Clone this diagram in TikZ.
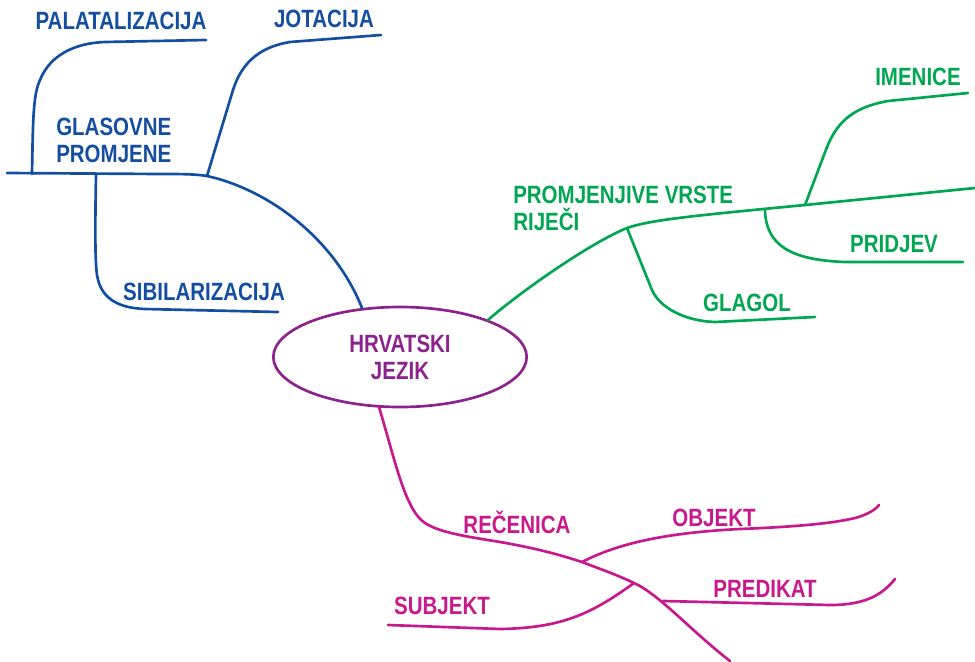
\documentclass[tikz,border=0pt]{standalone}
\usepackage{fontspec}
\setmainfont{Liberation Sans}[FakeStretch=0.82]
\usetikzlibrary{shapes.geometric}
\definecolor{cblue}{RGB}{20,78,160}
\definecolor{cgreen}{RGB}{0,166,80}
\definecolor{cpurple}{RGB}{140,35,140}
\definecolor{cmag}{RGB}{200,25,140}
\tikzset{
  lbl/.style={font=\fontsize{18.75}{20.25}\selectfont\bfseries, inner sep=0pt, anchor=base},
  lblml/.style={lbl, align=left, anchor=base west},
  branch/.style={line width=2pt, line cap=round, draw},
}
\begin{document}
\begin{tikzpicture}[x=0.75pt,y=-0.75pt]
\useasboundingbox (0,0) rectangle (975,661);

% central node
\node[draw=cpurple, line width=2pt, ellipse, minimum width=190pt, minimum height=75pt,
      inner sep=0pt, align=center, text=cpurple,
      font=\fontsize{18.75}{20.25}\selectfont\bfseries] (hj) at (400,357) {HRVATSKI\\JEZIK};

% ---------- blue ----------
\coordinate (b0) at (362,308);
\coordinate (bj) at (207,176);
\coordinate (bp) at (32,174);
\coordinate (bs) at (96,175);
\coordinate (bend) at (7,173);
\coordinate (bpe) at (206,40);
\coordinate (bje) at (381,35);
\coordinate (bse) at (278,312);

\node[lblml, text=cblue] (glas) at (56,162) {GLASOVNE\\PROMJENE};
\node[lbl, text=cblue] (pal) at (121,29) {PALATALIZACIJA};
\node[lbl, text=cblue] (jot) at (324,27) {JOTACIJA};
\node[lbl, text=cblue] (sib) at (204,300) {SIBILARIZACIJA};

\draw[branch, cblue] (b0) .. controls (335,240) and (270,190) .. (bj)
   .. controls (195,174) and (180,174) .. (160,174) -- (bend);
\draw[branch, cblue] (bp) .. controls (33,120) and (33,95) .. (40,80)
   .. controls (50,55) and (75,43) .. (105,42) -- (bpe);
\draw[branch, cblue] (bj) -- (233,90) .. controls (242,62) and (260,47) .. (290,42) -- (bje);
\draw[branch, cblue] (bs) .. controls (95,230) and (95,260) .. (97,275)
   .. controls (101,300) and (120,308) .. (145,309) -- (bse);

% ---------- green ----------
\coordinate (g0) at (488,320);
\coordinate (gg) at (627,228);
\coordinate (gp) at (765,210);
\coordinate (gi) at (805,205);
\coordinate (gend) at (975,188);
\coordinate (gge) at (815,317);
\coordinate (gpe) at (963,262);
\coordinate (gie) at (968,93);

\node[lblml, text=cgreen] (prom) at (513,230) {PROMJENJIVE VRSTE\\RIJEČI};
\node[lbl, text=cgreen] (imen) at (918,85) {IMENICE};
\node[lbl, text=cgreen] (prid) at (894,252) {PRIDJEV};
\node[lbl, text=cgreen] (glag) at (747,311) {GLAGOL};

\draw[branch, cgreen] (g0) .. controls (520,292) and (590,243) .. (gg)
   .. controls (650,220) and (690,216) .. (gi) -- (gend);
\draw[branch, cgreen] (gg) -- (652,290) .. controls (660,308) and (685,321) .. (715,322) -- (gge);
\draw[branch, cgreen] (gp) .. controls (766,245) and (790,260) .. (845,262) -- (gpe);
\draw[branch, cgreen] (gi) -- (827,147) .. controls (838,120) and (855,107) .. (888,101) -- (gie);

% ---------- magenta ----------
\coordinate (m0) at (379,407);
\coordinate (mo) at (582,562);
\coordinate (ms) at (634,583);
\coordinate (mp) at (663,601);
\coordinate (mend) at (730,661);
\coordinate (moe) at (879,505);
\coordinate (mse) at (388,625);
\coordinate (mpe) at (895,579);

\node[lbl, text=cmag] (rec) at (517,533) {REČENICA};
\node[lbl, text=cmag] (obj) at (714,526) {OBJEKT};
\node[lbl, text=cmag] (pred) at (765,597) {PREDIKAT};
\node[lbl, text=cmag] (subj) at (442,614) {SUBJEKT};

\draw[branch, cmag] (m0) .. controls (395,460) and (405,510) .. (425,523)
   .. controls (440,533) and (470,537) .. (500,542)
   .. controls (540,549) and (560,555) .. (mo)
   .. controls (600,569) and (615,574) .. (ms)
   .. controls (660,595) and (690,630) .. (mend);
\draw[branch, cmag] (mo) .. controls (615,545) and (660,533) .. (740,529)
   .. controls (790,527) and (830,524) .. (855,518)
   .. controls (870,514) and (877,508) .. (moe);
\draw[branch, cmag] (ms) .. controls (590,615) and (560,628) .. (500,629) -- (mse);
\draw[branch, cmag] (mp) -- (830,605) .. controls (865,605) and (882,595) .. (mpe);
\end{tikzpicture}
\end{document}
